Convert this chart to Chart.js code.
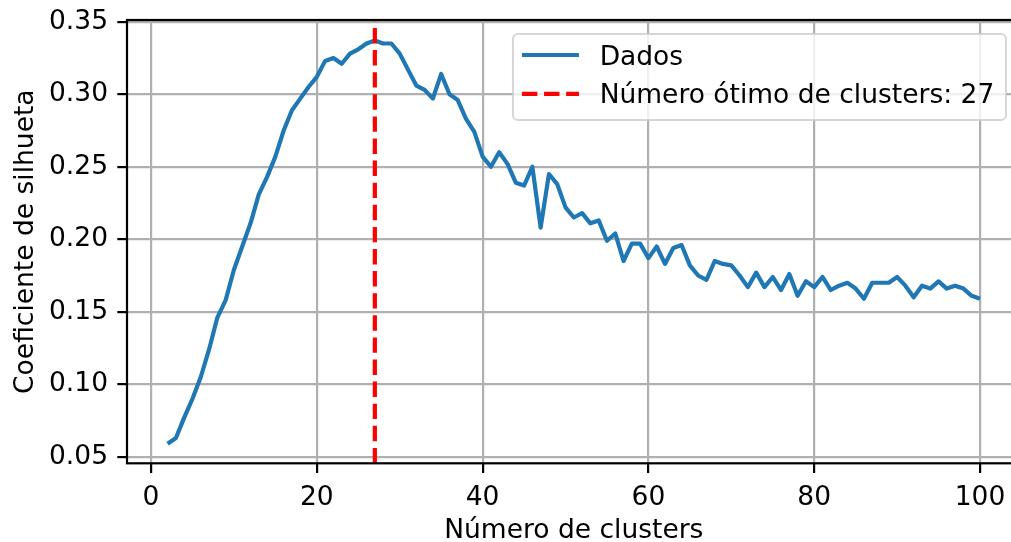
<!DOCTYPE html>
<html>
<head>
<meta charset="utf-8">
<script src="https://cdn.jsdelivr.net/npm/chart.js@4.4.1/dist/chart.umd.min.js"></script>
<style>
  html, body { margin: 0; padding: 0; background: #fff; }
  #clip { width: 1011px; height: 542px; overflow: hidden; position: relative; }
  #wrap { width: 1030px; height: 542px; position: absolute; left: 0; top: 0; }
</style>
</head>
<body>
<div id="clip"><div id="wrap"><canvas id="chart"></canvas></div></div>
<script>
  // number of clusters tested
  const clusters = [
    2, 3, 4, 5, 6, 7, 8, 9, 10,
    11, 12, 13, 14, 15, 16, 17, 18, 19, 20,
    21, 22, 23, 24, 25, 26, 27, 28, 29, 30,
    31, 32, 33, 34, 35, 36, 37, 38, 39, 40,
    41, 42, 43, 44, 45, 46, 47, 48, 49, 50,
    51, 52, 53, 54, 55, 56, 57, 58, 59, 60,
    61, 62, 63, 64, 65, 66, 67, 68, 69, 70,
    71, 72, 73, 74, 75, 76, 77, 78, 79, 80,
    81, 82, 83, 84, 85, 86, 87, 88, 89, 90,
    91, 92, 93, 94, 95, 96, 97, 98, 99, 100
  ];
  // silhouette score per cluster count
  const silhouette = [
    0.059, 0.063, 0.077, 0.090, 0.105, 0.124, 0.146, 0.158, 0.179,
    0.195, 0.211, 0.231, 0.243, 0.257, 0.275, 0.289, 0.297, 0.305, 0.312,
    0.323, 0.325, 0.321, 0.328, 0.331, 0.335, 0.337, 0.335, 0.335, 0.328,
    0.317, 0.306, 0.303, 0.297, 0.314, 0.300, 0.296, 0.283, 0.274, 0.257,
    0.250, 0.260, 0.252, 0.239, 0.237, 0.250, 0.208, 0.245, 0.238, 0.222,
    0.215, 0.218, 0.211, 0.213, 0.199, 0.204, 0.185, 0.197, 0.197, 0.187,
    0.195, 0.183, 0.194, 0.196, 0.182, 0.175, 0.172, 0.185, 0.183, 0.182,
    0.175, 0.167, 0.177, 0.167, 0.174, 0.165, 0.176, 0.161, 0.171, 0.167,
    0.174, 0.165, 0.168, 0.170, 0.166, 0.159, 0.170, 0.170, 0.170, 0.174,
    0.168, 0.160, 0.168, 0.166, 0.171, 0.166, 0.168, 0.166, 0.161, 0.159
  ];
  const bestK = 27;
  const xTicks = [0, 20, 40, 60, 80, 100];
  const yTicks = [0.05, 0.10, 0.15, 0.20, 0.25, 0.30, 0.35];

  const X_MIN = -2.9, X_MAX = 104.9;
  const Y_MIN = 0.0455, Y_MAX = 0.3512;

  const FONT = "'DejaVu Sans', sans-serif";
  const BLUE = "#1f77b4";
  const RED = "#ff0000";

  Chart.defaults.font.family = FONT;
  Chart.defaults.font.size = 26.5;
  Chart.defaults.color = "#000";

  function buildPoints() {
    let pts = [];
    for (let i = 0; i < clusters.length; i++) {
      pts.push({x: clusters[i], y: silhouette[i]});
    }
    return pts;
  }

  // black box round the plot
  const framePlugin = {
    id: "frame",
    afterDatasetsDraw(chart) {
      let ctx = chart.ctx;
      let a = chart.chartArea;
      ctx.save();
      ctx.strokeStyle = "#000";
      ctx.lineWidth = 2.2;
      ctx.strokeRect(a.left, a.top, a.right - a.left, a.bottom - a.top);
      ctx.restore();
    }
  };

  // matplotlib-like legend in the upper right corner
  const legendPlugin = {
    id: "mplLegend",
    afterDraw(chart) {
      let ctx = chart.ctx;
      let a = chart.chartArea;
      let sets = chart.data.datasets.slice().reverse();
      ctx.save();
      ctx.font = "26.5px " + FONT;
      let textW = 0;
      sets.forEach(function(ds) {
        textW = Math.max(textW, ctx.measureText(ds.label).width);
      });
      let right = a.right - 14.6;
      let top = a.top + 14;
      let width = 9 + 57 + 20.7 + textW + 11.7;
      let height = 86;
      let left = right - width;
      let r = 5;
      ctx.beginPath();
      ctx.moveTo(left + r, top);
      ctx.lineTo(right - r, top);
      ctx.arcTo(right, top, right, top + r, r);
      ctx.lineTo(right, top + height - r);
      ctx.arcTo(right, top + height, right - r, top + height, r);
      ctx.lineTo(left + r, top + height);
      ctx.arcTo(left, top + height, left, top + height - r, r);
      ctx.lineTo(left, top + r);
      ctx.arcTo(left, top, left + r, top, r);
      ctx.closePath();
      ctx.fillStyle = "rgba(255,255,255,0.8)";
      ctx.fill();
      ctx.strokeStyle = "rgba(204,204,204,0.8)";
      ctx.lineWidth = 2;
      ctx.stroke();

      for (let i = 0; i < sets.length; i++) {
        let ds = sets[i];
        let y = top + 21 + i * 38.8;
        ctx.beginPath();
        ctx.setLineDash(ds.borderDash || []);
        ctx.lineCap = "butt";
        ctx.strokeStyle = ds.borderColor;
        ctx.lineWidth = ds.borderWidth;
        ctx.moveTo(left + 9, y);
        ctx.lineTo(left + 66, y);
        ctx.stroke();
        ctx.setLineDash([]);
        ctx.fillStyle = "#000";
        ctx.textBaseline = "alphabetic";
        ctx.textAlign = "left";
        ctx.fillText(ds.label, left + 86.7, y + 9.5);
      }
      ctx.restore();
    }
  };

  function main() {
    let ctx = document.getElementById("chart").getContext("2d");
    let chart = new Chart(ctx, {
      type: "line",
      data: {
        datasets: [{
          label: "Número ótimo de clusters: " + bestK,
          data: [{x: bestK, y: Y_MIN}, {x: bestK, y: Y_MAX}],
          borderColor: RED,
          borderWidth: 4.2,
          borderDash: [15.4, 6.7],
          pointRadius: 0,
          order: 0
        }, {
          label: "Dados",
          data: buildPoints(),
          borderColor: BLUE,
          borderWidth: 4.2,
          borderJoinStyle: "round",
          pointRadius: 0,
          tension: 0,
          order: 1
        }]
      },
      options: {
        responsive: true,
        maintainAspectRatio: false,
        animation: false,
        devicePixelRatio: 1,
        layout: {padding: {left: 0, top: 20, right: 9.4, bottom: 0}},
        plugins: {
          legend: {display: false},
          tooltip: {enabled: false}
        },
        scales: {
          x: {
            type: "linear",
            min: X_MIN,
            max: X_MAX,
            afterFit: function(scale) {
              scale.height = 78.7;
              scale.paddingLeft = 0;
              scale.paddingRight = 0;
            },
            afterBuildTicks: function(scale) {
              scale.ticks = xTicks.map(function(v) { return {value: v}; });
            },
            ticks: {
              padding: 9,
              maxRotation: 0,
              includeBounds: false,
              callback: function(v) { return String(v); }
            },
            grid: {
              color: "#b0b0b0",
              lineWidth: 2.2,
              tickColor: "#000",
              tickWidth: 2.2,
              tickLength: 9.7
            },
            border: {display: false},
            title: {
              display: true,
              text: "Número de clusters",
              font: {size: 26.5, lineHeight: 0.9},
              padding: {top: 0, bottom: -1}
            }
          },
          y: {
            type: "linear",
            min: Y_MIN,
            max: Y_MAX,
            afterFit: function(scale) {
              scale.width = 127;
              scale.paddingTop = 0;
              scale.paddingBottom = 0;
            },
            afterBuildTicks: function(scale) {
              scale.ticks = yTicks.map(function(v) { return {value: v}; });
            },
            ticks: {
              padding: 9.3,
              includeBounds: false,
              callback: function(v) { return Number(v).toFixed(2); }
            },
            grid: {
              color: "#b0b0b0",
              lineWidth: 2.2,
              tickColor: "#000",
              tickWidth: 2.2,
              tickLength: 9.7
            },
            border: {display: false},
            title: {
              display: true,
              text: "Coeficiente de silhueta",
              font: {size: 26.5, lineHeight: 0.9},
              padding: {top: 14, bottom: 0}
            }
          }
        }
      },
      plugins: [framePlugin, legendPlugin]
    });
  }

  window.addEventListener("load", main);
</script>
</body>
</html>
